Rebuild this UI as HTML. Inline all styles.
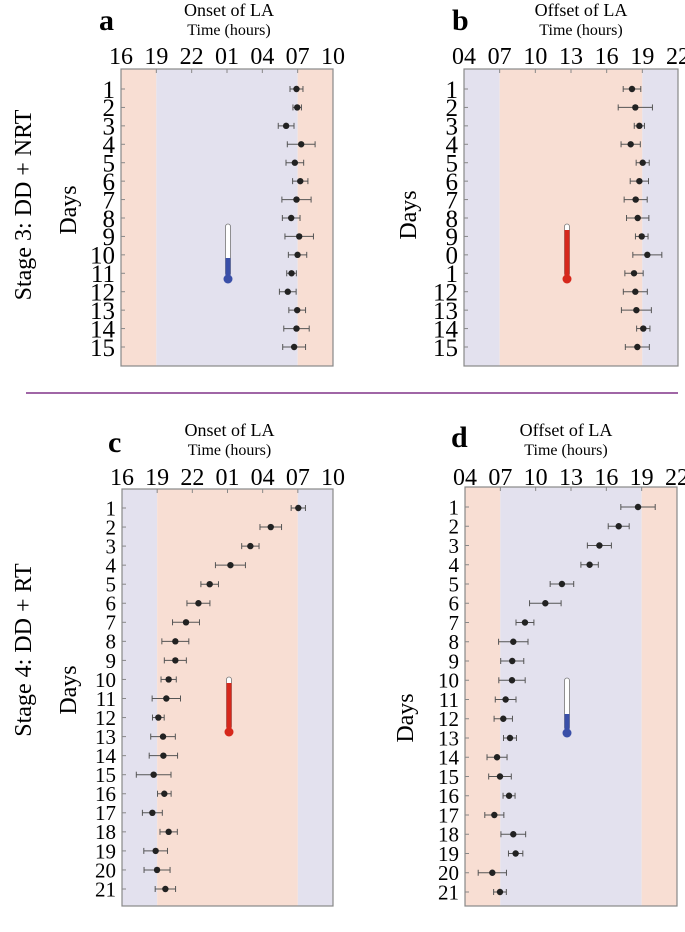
<!DOCTYPE html>
<html><head><meta charset="utf-8"><style>
body{margin:0;background:#fff}
svg{display:block;font-family:"Liberation Serif",serif}
</style></head><body>
<svg id="fig" width="685" height="932" viewBox="0 0 685 932">
<line x1="26" y1="393" x2="678" y2="393" stroke="#a066a6" stroke-width="2"/>
<text x="31" y="205" font-size="24" text-anchor="middle" transform="rotate(-90 31 205)">Stage 3: DD + NRT</text>
<text x="31" y="650" font-size="24" text-anchor="middle" transform="rotate(-90 31 650)">Stage 4: DD + RT</text>
</svg>
<script>
// ---- data (clock hours; values > 24 mean next day) ----
const aDays=["1","2","3","4","5","6","7","8","9","10","11","12","13","14","15"];
const aMean=[30.90,30.96,30.02,31.30,30.76,31.22,30.90,30.45,31.13,30.99,30.48,30.16,30.96,30.90,30.70];
const aErr=[0.55,0.36,0.67,1.18,0.75,0.65,1.24,0.75,1.21,0.78,0.41,0.71,0.71,1.08,0.97];
const bDays=["1","2","3","4","5","6","7","8","9","0","1","12","13","14","15"];
const bMean=[18.13,18.41,18.75,18.02,19.03,18.75,18.44,18.61,18.95,19.42,18.30,18.41,18.50,19.08,18.58];
const bErr=[0.74,1.44,0.43,0.81,0.55,0.77,0.97,0.94,0.53,1.22,0.77,1.01,1.26,0.56,1.01];
const cDays=["1","2","3","4","5","6","7","8","9","10","11","12","13","14","15","16","17","18","19","20","21"];
const cMean=[31.04,28.69,26.95,25.25,23.48,22.52,21.46,20.55,20.55,19.98,19.78,19.10,19.50,19.53,18.70,19.61,18.59,19.98,18.87,18.99,19.70];
const cErr=[0.61,0.92,0.74,1.28,0.75,0.98,1.15,1.15,0.94,0.65,1.21,0.5,1.05,1.21,1.48,0.58,0.85,0.74,1.01,1.11,0.87];
const dDays=cDays;
const dMean=[18.69,17.05,15.41,14.58,12.23,10.82,9.09,8.10,8.01,7.99,7.45,7.25,7.82,6.72,6.97,7.74,6.49,8.10,8.30,6.32,6.97];
const dErr=[1.46,0.89,1.02,0.74,1.0,1.34,0.76,1.25,0.98,1.12,0.88,0.78,0.55,0.85,0.96,0.51,0.81,1.05,0.61,1.2,0.54];
const onsetTicks=["16","19","22","01","04","07","10"];
const offsetTicks=["04","07","10","13","16","19","22"];

const NS="http://www.w3.org/2000/svg";
const svg=document.getElementById('fig');
const PINK="#f8ded3", LAV="#e3e1ee";
function mk(tag,attrs,parent){const e=document.createElementNS(NS,tag);for(const k in attrs)e.setAttribute(k,attrs[k]);(parent||svg).appendChild(e);return e;}
function txt(s,attrs){const e=mk('text',attrs);e.textContent=s;return e;}

function panel(o){
  const g=mk('g',{});
  
  
  const x=h=>o.x0+(h-o.start)*(o.x1-o.x0)/18;
  const y=i=>o.d1+i*(o.dN-o.d1)/(o.days.length-1);
  o.bands.forEach((b,i)=>{const r=mk('rect',{x:x(b[0]),y:o.top,width:x(b[1])-x(b[0]),height:o.bot-o.top,fill:b[2]},g);
    
    });
  const fr=mk('rect',{x:o.x0,y:o.top,width:o.x1-o.x0,height:o.bot-o.top,fill:'none',stroke:'#888','stroke-width':1.2},g);
  
  
  o.ticks.forEach((t,i)=>{const xx=x(o.start+3*i);
    mk('line',{x1:xx,y1:o.top,x2:xx,y2:o.top+4,stroke:'#888'},g);
    const l=txt(t,{x:xx,y:o.tickY,'font-size':24,'text-anchor':'middle'});
    
    });
  o.days.forEach((d,i)=>{const yy=y(i);
    mk('line',{x1:o.x0,y1:yy,x2:o.x0+4,y2:yy,stroke:'#888'},g);
    const l=txt(d,{x:o.x0-6,y:yy+o.dayFs*0.35,'font-size':o.dayFs,'text-anchor':'end'});
    
    });
  o.mean.forEach((m,i)=>{const yy=y(i),e=o.err[i];
    const a=x(m-e),b=x(m+e);
    mk('line',{x1:a,y1:yy,x2:b,y2:yy,stroke:'#555','stroke-width':1},g);
    mk('line',{x1:a,y1:yy-3,x2:a,y2:yy+3,stroke:'#555'},g);
    mk('line',{x1:b,y1:yy-3,x2:b,y2:yy+3,stroke:'#555'},g);
    const c=mk('circle',{cx:x(m),cy:yy,r:3.2,fill:'#222'},g);
    
    });
  const tx=o.therm[0],ty=o.therm[1],col=o.therm[2],fill=o.therm[3];
  mk('rect',{x:tx-2.5,y:ty,width:5,height:52,rx:2.5,fill:'#fff',stroke:'#777','stroke-width':0.8},g);
  mk('rect',{x:tx-2.5,y:ty+52-fill,width:5,height:fill,fill:col},g);
  const bl=mk('circle',{cx:tx,cy:ty+55,r:4.5,fill:col},g);
  
  
  const L=txt(o.id,{x:o.letter[0],y:o.letter[1],'font-size':30,'font-weight':'bold'});
  
  
  const cx=(o.x0+o.x1)/2;
  const t1=txt(o.title,{x:cx+o.tdx,y:o.titleY,'font-size':18,'text-anchor':'middle'});
  
  
  const t2=txt('Time (hours)',{x:cx+o.tdx,y:o.titleY+19,'font-size':16,'text-anchor':'middle'});
  
  
  const dy=txt('Days',{x:o.daysPos[0],y:o.daysPos[1],'font-size':24,'text-anchor':'middle',transform:`rotate(-90 ${o.daysPos[0]} ${o.daysPos[1]})`});
  
  
}
panel({id:'a',x0:121,x1:333,top:69,bot:366,d1:89,dN:347,start:16,ticks:onsetTicks,days:aDays,mean:aMean,err:aErr,dayFs:25,
  bands:[[16,19,PINK],[19,31,LAV],[31,34,PINK]],therm:[228,224,'#3a4fa8',18],letter:[99,30],title:'Onset of LA',titleY:16,tdx:2,tickY:64,daysPos:[76,210]});
panel({id:'b',x0:464,x1:678,top:69,bot:366,d1:89,dN:347,start:4,ticks:offsetTicks,days:bDays,mean:bMean,err:bErr,dayFs:25,
  bands:[[4,7,LAV],[7,19,PINK],[19,22,LAV]],therm:[567,224,'#d6281c',46],letter:[452,30],title:'Offset of LA',titleY:16,tdx:10,tickY:64,daysPos:[416,215]});
panel({id:'c',x0:122,x1:333,top:489,bot:906,d1:508,dN:889,start:16,ticks:onsetTicks,days:cDays,mean:cMean,err:cErr,dayFs:21,
  bands:[[16,19,LAV],[19,31,PINK],[31,34,LAV]],therm:[229,677,'#d6281c',46],letter:[108,452],title:'Onset of LA',titleY:436,tdx:2,tickY:485,daysPos:[76,690]});
panel({id:'d',x0:465,x1:677,top:487,bot:906,d1:507,dN:892,start:4,ticks:offsetTicks,days:dDays,mean:dMean,err:dErr,dayFs:21,
  bands:[[4,7,PINK],[7,19,LAV],[19,22,PINK]],therm:[567,678,'#3a4fa8',16],letter:[451,447],title:'Offset of LA',titleY:436,tdx:-5,tickY:485,daysPos:[413,718]});
</script>
</body></html>
